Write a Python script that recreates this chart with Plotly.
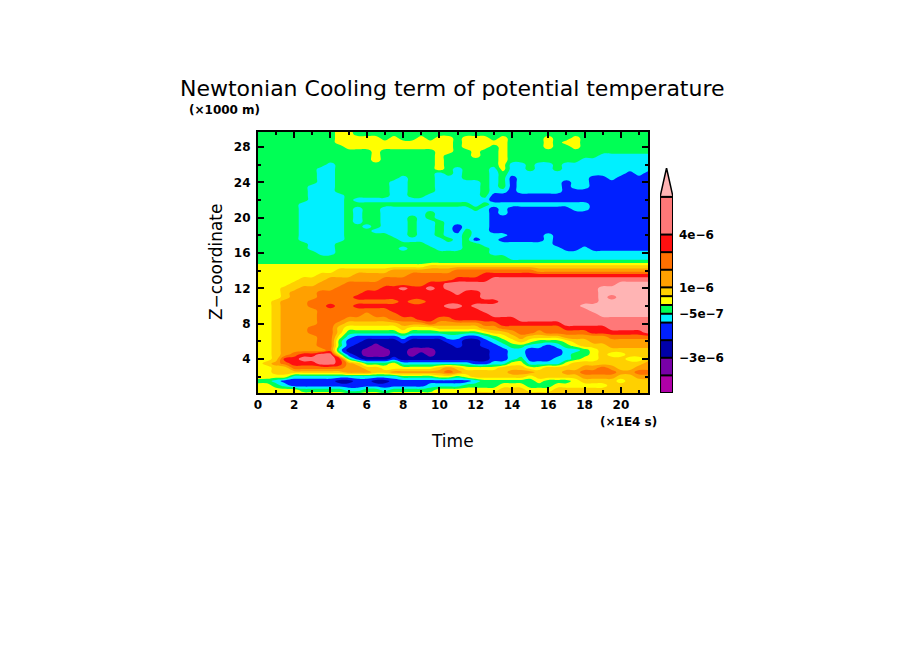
import numpy as np
import plotly.graph_objects as go

TITLE = "Newtonian Cooling term of potential temperature"
BAND_COLORS = ["#B000A8", "#7800A8", "#0000A8", "#0020FF", "#00F0FF", "#00FF55", "#FFFF00",
               "#FFD000", "#FFA000", "#FF7000", "#FF1010", "#FF7878", "#FFB4B4"]
# colour-bar band edges (units of 1e-6); the last band is the open-ended arrow
BAND_EDGES = [-5, -4, -3, -2, -1, -0.5, 0, 0.5, 1, 2, 3, 4, 6.14]
ARROW_TIP = 7.78
CBAR_TICKS = [4, 1, -0.5, -3]
CBAR_LABELS = ["4e\u22126", "1e\u22126", "\u22125e\u22127", "\u22123e\u22126"]

TIME = [0.5 * i for i in range(44)]              # x 1e4 s
HEIGHT = [30 - 0.5 * i for i in range(61)]       # x 1000 m, top to bottom
X_TICKS = [0, 2, 4, 6, 8, 10, 12, 14, 16, 18, 20]
Y_TICKS = [4, 8, 12, 16, 20, 24, 28]

# band index (hex digit, 0..c); one row per height
BANDS = """
5555 5555 5665 5555 5555 5555 5555 5555 5555 5555 5555
5555 5555 5665 5555 5555 5555 5555 5555 5555 5555 5555
5555 5555 5666 6656 5565 6656 6656 5555 6556 5555 5555
5555 5555 5666 6666 6666 6656 6666 5555 6566 5555 5555
5555 5555 5566 6666 6666 6656 6656 5555 6556 5555 5555
5555 5555 5555 5655 5555 6655 6556 5555 5555 5555 5555
5555 5555 5555 5655 5555 6555 6556 5555 5555 5544 4444
5555 5555 5555 5655 5555 6555 5556 5555 5555 4444 4444
5555 5555 4555 5555 5555 6555 5556 4454 4544 4444 4444
5555 5554 4555 5555 5555 6545 5546 4454 4544 4444 4444
5555 5554 4555 5555 5555 4545 5545 4444 4444 4444 4343
5555 5554 4555 5555 4555 4445 5545 3444 4444 4334 3333
5555 5554 4555 5554 4555 4444 4545 3444 4434 4333 3333
5555 5544 4555 5554 4555 4444 4545 3444 4434 4333 3333
5555 5544 4555 5554 4555 4444 4544 3444 4433 3333 3333
5555 5544 4455 5554 4554 4444 4533 3333 3333 3333 3333
5555 5544 4454 4444 4444 4444 4433 3333 3333 3333 3333
5555 5444 4455 5555 5555 5555 4544 4444 4444 4333 3333
5555 5444 4454 5544 4444 4444 5434 3333 3334 4333 3333
5555 5444 4454 5544 4445 4444 4434 3333 3333 3333 3333
5555 5444 4454 5544 4545 4444 4433 3333 3333 3333 3333
5555 5444 4454 5544 4544 5444 4433 3333 3333 3333 3333
5555 5444 4455 4544 4544 5434 4433 3333 3333 3333 3333
5555 5444 4455 5444 4544 5435 4433 3333 3333 3333 3333
5555 5444 4455 5554 4544 5445 4444 3333 4333 3333 3333
5555 5444 4455 5555 4444 4545 3443 3333 4333 3333 3333
5555 5544 4555 5555 5554 4445 5444 4444 4333 3333 3333
5555 5544 4555 5555 4555 4445 5544 4444 4433 4333 3333
5555 5554 4555 5555 5555 5555 5544 4444 4444 4444 4444
5555 5555 5555 5555 5555 5555 5555 4444 4444 4444 4444
5555 5555 5555 5555 5555 5555 5555 5555 5555 5555 5555
6666 6666 6666 6666 6667 7777 7777 7777 7777 7777 7777
6666 6666 6777 7778 8888 8899 9999 9998 8888 8888 8888
6666 6667 7778 8888 8999 9999 9aaa aaaa aaaa aaaa aaaa
6666 6777 8888 8899 9999 99aa aabb bbbb bbbb bbbb bbbb
6666 7778 8899 9999 999a abbb bbbb bbbb bbbb bbbb cccc
6667 7888 8999 99aa baab abbb bbbb bbbb bbbb bbcc cccc
6667 8889 9999 aaaa aaaa aaba abbb bbbb bbbb bbcc cccc
6667 8889 999a aaaa aaaa aaaa abbb bbbb bbbb bbcb cccc
6678 8899 9999 9999 a99a aaaa aaab bbbb bbbb bbcc cccc
6678 8899 a99a aaaa aaaa abba bbbb bbbb bbbb cccc cccc
6678 8889 9999 999a aaaa aaaa abbb bbbb bbbb bccc cccc
6678 8889 9999 8999 aaaa aaaa aabb bbbb bbbb bbcc cccc
6678 8889 9988 8889 99aa 99aa aaaa abbb bbbb bbbb bbbb
6678 8889 9877 7777 8889 8888 899a aaaa aabb bbbb bbbb
6678 8899 9766 6666 7666 7777 7889 9999 99aa aaab bbbb
6678 8899 9755 5555 6555 5555 5677 8998 9999 9aaa aaab
6678 8889 9643 3333 4333 3443 3456 7877 7788 8889 9999
6678 8889 9533 2222 3222 2332 2345 6765 5567 7888 8888
6678 8889 9532 2122 2222 2232 2334 5544 3456 7778 8888
6678 8888 9422 1112 2111 2222 2233 4433 3344 5677 7777
6678 9aab b632 1112 2121 2222 2233 4433 3345 5676 6777
667a abbb ba53 2223 2222 2222 2233 4533 3445 6677 7667
6789 aaab ba87 5556 4444 4444 3344 6644 4467 7777 7778
6677 9999 9988 7766 6666 7876 6667 7766 7777 8898 7788
6677 7777 7788 8778 8888 8987 7777 8887 7788 9999 8899
6666 4444 4444 4444 5555 6656 7777 7767 7777 8888 7788
5543 3333 3223 3223 3333 3333 4555 5556 5556 7777 6777
6654 3333 3333 3333 3334 4445 5556 6655 5666 6667 7777
6666 6555 5544 5545 5555 6666 6667 7766 6777 7777 7777
6666 6666 6666 6666 6666 6666 7777 7777 7777 7777 7777
"""

rows = [r.replace(" ", "") for r in BANDS.strip().splitlines()]
grid = np.array([[int(c, 16) for c in r] for r in rows], dtype=float)

# the page keeps a margin round the figure
PAGE_W, PAGE_H, MARGIN = 904, 654, 8
W, H = PAGE_W - 2 * MARGIN, PAGE_H - 2 * MARGIN
def px(x): return (x - MARGIN - 1) / W
def py(y): return 1 - (y - MARGIN + 1) / H

n = len(BAND_COLORS)
scale = []
for i, c in enumerate(BAND_COLORS):
    scale += [[i / n, c], [(i + 1) / n, c]]

FONT = "DejaVu Sans"
fig = go.Figure()
fig.add_trace(go.Contour(
    x=TIME, y=HEIGHT, z=grid, colorscale=scale, zmin=-0.5, zmax=n - 0.5, showscale=False,
    autocontour=False, contours=dict(start=0.5, end=n - 1.5, size=1, coloring="fill", showlines=False),
    line=dict(width=0, smoothing=1.3), hoverinfo="skip"))

fig.add_trace(go.Heatmap(
    x=[0, 1], y=BAND_EDGES, z=[[i] for i in range(len(BAND_EDGES) - 1)],
    colorscale=scale, zmin=-0.5, zmax=n - 0.5, showscale=False, xaxis="x2", yaxis="y2", hoverinfo="skip"))
fig.add_trace(go.Scatter(
    x=[0, 0.5, 1, 0], y=[BAND_EDGES[-1], ARROW_TIP, BAND_EDGES[-1], BAND_EDGES[-1]],
    mode="lines", fill="toself", fillcolor=BAND_COLORS[-1], line=dict(color="black", width=1.5),
    xaxis="x2", yaxis="y2", hoverinfo="skip"))
sep_x, sep_y = [], []
for e in BAND_EDGES:
    sep_x += [0, 1, None]
    sep_y += [e, e, None]
sep_x += [0, 0, None, 1, 1]
sep_y += [BAND_EDGES[0], BAND_EDGES[-1], None, BAND_EDGES[0], BAND_EDGES[-1]]
fig.add_trace(go.Scatter(x=sep_x, y=sep_y, mode="lines", line=dict(color="black", width=2),
                         xaxis="x2", yaxis="y2", hoverinfo="skip"))

tickfont = dict(family=FONT, size=12, color="black", weight="bold")
axis = dict(showgrid=False, zeroline=False, showline=True, linecolor="black", linewidth=2,
            mirror="allticks", ticks="inside", ticklen=6, tickwidth=2, tickcolor="black", tickfont=tickfont)
fig.update_layout(
    width=W, height=H, margin=dict(l=0, r=0, t=0, b=0), paper_bgcolor="white", plot_bgcolor="white",
    showlegend=False,
    xaxis=dict(domain=[px(256), px(648)], range=[0, 21.5], tickvals=X_TICKS,
               minor=dict(dtick=1, ticks="inside", ticklen=3, tickwidth=1.5, tickcolor="black"), **axis),
    yaxis=dict(domain=[py(392), py(131)], range=[0.15, 29.7], tickvals=Y_TICKS, ticklabelstandoff=3,
               minor=dict(dtick=2, ticks="inside", ticklen=3, tickwidth=1.5, tickcolor="black"), **axis),
    xaxis2=dict(domain=[px(660), px(673)], range=[0, 1], visible=False, anchor="y2"),
    yaxis2=dict(domain=[py(392), py(167)], range=[BAND_EDGES[0], ARROW_TIP], anchor="x2", side="right",
                showgrid=False, zeroline=False, showline=False, ticks="", tickvals=CBAR_TICKS,
                ticktext=CBAR_LABELS, tickfont=tickfont, ticklabelstandoff=5),
)

def note(text, x, y, size, anchor="center", angle=0, weight="normal"):
    fig.add_annotation(text=text, xref="paper", yref="paper", x=px(x), y=py(y), showarrow=False,
                       xanchor=anchor, yanchor="middle", textangle=angle,
                       font=dict(family=FONT, size=size, color="black", weight=weight))

note(TITLE, 451, 88, 22)
note("(\u00d71000 m)", 185, 109, 12, "left", weight="bold")
note("(\u00d71E4 s)", 598, 421, 12, "left", weight="bold")
note("Time", 451, 440, 17)
note("Z\u2212coordinate", 214, 261, 17, angle=-90)

fig.write_html("out.html")
